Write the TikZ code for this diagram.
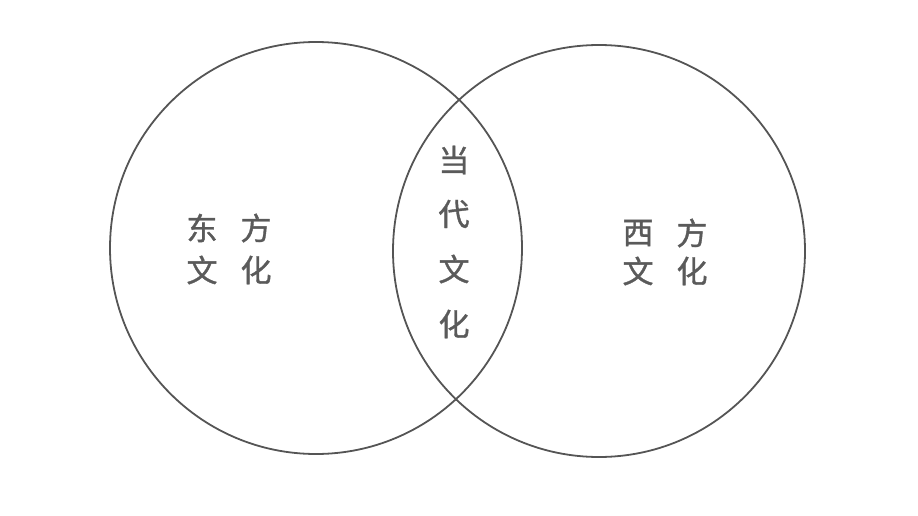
\documentclass[tikz,border=0pt]{standalone}
\usepackage{fontspec}
\newfontfamily\cjk[FakeBold=1.2]{Noto Sans CJK SC}
\definecolor{ink}{HTML}{555555}
\definecolor{txt}{HTML}{5A5A5A}
\begin{document}
\begin{tikzpicture}[x=1pt,y=-1pt,
  ring/.style={draw=ink,line width=1.8pt},
  lbl/.style={text=txt,font=\cjk\fontsize{31}{31}\selectfont,inner sep=0pt}]
\useasboundingbox (0,0) rectangle (918,516);
\node[ring,circle,minimum size=412pt,inner sep=0pt] (east) at (316,248) {};
\node[ring,circle,minimum size=412pt,inner sep=0pt] (west) at (599,251) {};
\node[lbl] (e1) at (202,228) {东};
\node[lbl] (e2) at (256,228) {方};
\node[lbl] (e3) at (202,270) {文};
\node[lbl] (e4) at (256,270) {化};
\node[lbl] (m1) at (454,160) {当};
\node[lbl] (m2) at (454,214) {代};
\node[lbl] (m3) at (454,269) {文};
\node[lbl] (m4) at (454,324) {化};
\node[lbl] (w1) at (638,233) {西};
\node[lbl] (w2) at (692,233) {方};
\node[lbl] (w3) at (638,271) {文};
\node[lbl] (w4) at (692,271) {化};
\end{tikzpicture}
\end{document}
